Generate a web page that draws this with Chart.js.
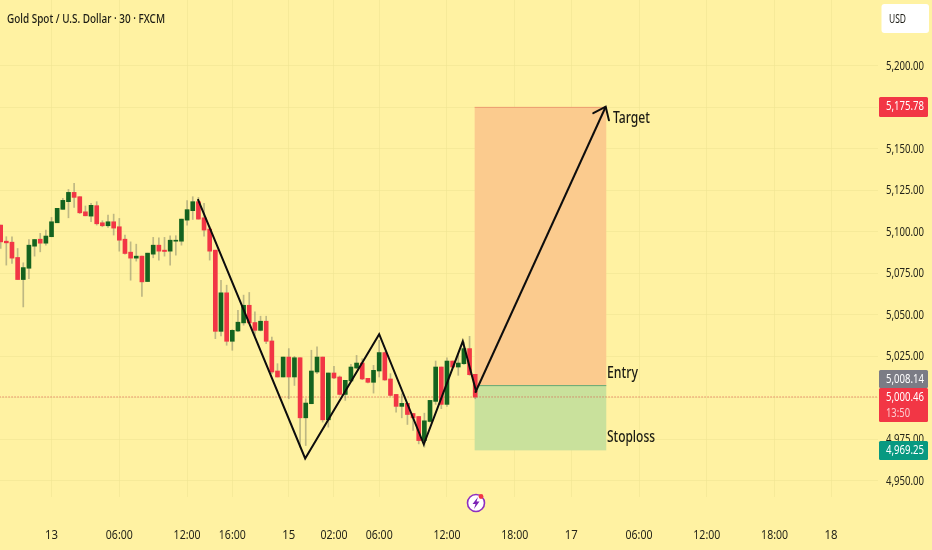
<!DOCTYPE html>
<html><head><meta charset="utf-8">
<script src="https://cdn.jsdelivr.net/npm/chart.js@4"></script>
<style>html,body{margin:0;padding:0;background:#fff2a2;overflow:hidden}canvas{display:block}</style>
</head><body><canvas id="c" width="932" height="550"></canvas>
<script>
const opens=[5104.0,5094.3,5093.7,5084.5,5071.2,5078.0,5091.3,5095.5,5093.1,5097.0,5105.4,5113.5,5118.1,5123.7,5121.1,5112.0,5109.4,5115.7,5105.4,5103.6,5106.0,5103.0,5095.5,5087.7,5084.1,5085.3,5070.0,5086.5,5091.9,5088.9,5088.3,5094.3,5094.3,5107.0,5112.7,5118.1,5108.4,5101.6,5088.9,5040.0,5063.2,5034.0,5040.2,5045.1,5055.7,5045.3,5040.6,5046.1,5034.2,5016.1,5012.5,5024.5,5012.5,5024.1,4987.9,4996.4,5015.5,5024.5,4986.7,5014.9,5012.5,5002.0,5010.1,5017.9,5020.9,5011.7,5009.3,5016.1,5027.2,5011.3,5002.0,4994.8,4996.6,4990.5,4988.7,4974.2,4985.7,4997.8,5018.5,4996.0,5022.1,5018.5,5020.5,5029.6,5014.1];
const highs=[5104.0,5097.0,5097.0,5089.9,5081.3,5095.3,5095.3,5099.0,5101.0,5108.6,5114.1,5120.1,5125.5,5129.2,5121.1,5115.5,5117.1,5118.1,5106.6,5110.0,5110.6,5108.0,5098.0,5093.9,5092.5,5085.3,5087.1,5096.6,5096.4,5096.6,5097.6,5097.6,5107.6,5118.7,5121.1,5120.7,5117.1,5103.0,5088.9,5070.8,5067.8,5041.0,5052.7,5061.8,5063.4,5051.7,5049.1,5049.1,5036.6,5020.5,5024.5,5029.6,5024.9,5024.1,4999.4,5028.6,5030.6,5024.5,5014.9,5018.9,5013.1,5010.5,5020.1,5025.5,5023.5,5011.7,5019.5,5034.6,5027.6,5014.5,5002.0,5002.4,4996.6,4990.5,4988.7,4990.7,4998.4,5022.1,5018.5,5024.1,5022.1,5025.5,5033.6,5037.0,5014.1];
const lows=[5089.9,5079.9,5080.9,5071.2,5054.7,5071.8,5085.3,5087.9,5091.9,5097.0,5105.4,5113.5,5108.4,5114.7,5111.0,5109.6,5106.0,5104.0,5103.0,5102.6,5098.0,5088.3,5086.5,5070.8,5082.3,5061.1,5070.0,5084.3,5082.9,5085.3,5079.9,5085.9,5091.9,5104.0,5107.4,5107.6,5097.4,5082.9,5035.6,5037.2,5031.6,5028.6,5039.8,5043.7,5044.7,5037.6,5040.2,5032.6,5014.5,5012.5,5012.5,4999.4,5007.4,4970.2,4971.2,4996.4,5014.5,4985.3,4982.3,5011.5,5001.6,4998.4,5009.5,5017.5,5010.9,5008.9,5002.8,5012.5,5010.5,5001.0,4991.3,4987.9,4983.9,4980.3,4972.2,4970.2,4985.3,4996.0,4993.4,4994.8,5018.1,5013.5,5020.1,5013.5,4999.4];
const closes=[5093.9,5093.3,5084.1,5071.2,5078.4,5091.9,5095.3,5093.1,5097.4,5106.0,5114.1,5118.9,5123.7,5120.7,5111.4,5109.6,5115.9,5104.8,5103.6,5106.0,5102.2,5094.9,5086.9,5084.1,5085.3,5069.8,5087.1,5091.9,5088.3,5088.1,5094.9,5094.9,5107.6,5113.3,5118.1,5107.6,5101.0,5088.3,5040.0,5063.2,5034.0,5040.6,5045.5,5055.7,5045.1,5040.6,5046.1,5034.0,5015.5,5012.5,5024.5,5012.5,5024.1,4987.9,4996.8,5016.1,5024.5,4986.7,5014.9,5011.9,5002.0,5010.5,5018.5,5020.9,5011.3,5009.3,5016.5,5027.2,5010.7,5001.4,4994.8,4996.6,4989.9,4987.9,4974.2,4986.1,4998.4,5018.5,4996.0,5022.1,5018.5,5020.9,5029.6,5013.9,5000.4];
const priceTicks=[4950,4975,5000,5025,5050,5075,5100,5125,5150,5175,5200];
const hiddenPriceTicks=[5000,5175];
const timeSlots=[9,21,33,41,51,59,67,79,91,101,113,125,137,147];
const timeLabels=['13','06:00','12:00','16:00','15','02:00','06:00','12:00','18:00','17','06:00','12:00','18:00','18'];
const zigzagSlots=[34.9,53.9,67,74.9,81.8,84.2];
const zigzagPrices=[5119.7,4963.4,5038.3,4971.9,5034.0,5003.3];
const arrowSlots=[84.0,107.1];
const arrowPrices=[5003.0,5175.3];
const boxSlots=[83.9,107.2];
const targetPrice=5175.2, entryPrice=5007.6, stopPrice=4968.3, lastPrice=5000.46;
const lastLineSlots=[-0.2,155.3];

const RED='#f23645',GREEN='#14631f',WICK='rgba(125,125,100,.5)',GRID='rgba(238,228,145,.55)';
const FONT='"Noto Sans","Open Sans",sans-serif';
const slots=opens.map((_,i)=>i);
const barColors=opens.map((o,i)=>closes[i]>=o?GREEN:RED);

const overlay={id:'overlay',
 beforeDraw(ch){const c=ch.ctx;c.save();c.fillStyle='#fff2a2';c.fillRect(0,0,932,550);c.restore();},
 beforeDatasetsDraw(ch){
  const c=ch.ctx,x=ch.scales.x,y=ch.scales.y;
  const l=x.getPixelForValue(boxSlots[0]),r=x.getPixelForValue(boxSlots[1]);
  const t=y.getPixelForValue(targetPrice),e=y.getPixelForValue(entryPrice),s=y.getPixelForValue(stopPrice);
  c.save();
  c.fillStyle='#fbcb8e';c.fillRect(l,t,r-l,e-t);
  c.fillStyle='#c9e19c';c.fillRect(l,e,r-l,s-e);
  c.strokeStyle='rgba(220,120,90,.55)';c.lineWidth=1;c.beginPath();c.moveTo(l,t+.5);c.lineTo(r,t+.5);c.stroke();
  c.strokeStyle='rgba(90,160,110,.9)';c.beginPath();c.moveTo(l,e+.5);c.lineTo(r,e+.5);c.stroke();
  c.restore();
 },
 afterDraw(ch){
  const c=ch.ctx,x=ch.scales.x,y=ch.scales.y;
  c.save();
  const ink='#24241a';
  c.textBaseline='middle';c.fillStyle=ink;c.font='13px '+FONT;
  c.textAlign='left';
  y.ticks.forEach(t=>{if(t.label)c.fillText(t.label,886,y.getPixelForValue(t.value)+.5,38);});
  c.textAlign='center';
  x.ticks.forEach(t=>{if(t.label){c.fillText(t.label,x.getPixelForValue(t.value),535,t.label.length>2?27:13);}});
  const hx=x.getPixelForValue(arrowSlots[1]),hy=y.getPixelForValue(arrowPrices[1]);
  const bx=x.getPixelForValue(arrowSlots[0]),by=y.getPixelForValue(arrowPrices[0]);
  const a=Math.atan2(hy-by,hx-bx),L=14;
  c.strokeStyle='#0d0d0d';c.lineWidth=2;c.lineCap='round';c.lineJoin='miter';c.beginPath();
  c.moveTo(hx+L*Math.cos(a+2.48),hy+L*Math.sin(a+2.48));c.lineTo(hx,hy);c.lineTo(hx+L*Math.cos(a-2.48),hy+L*Math.sin(a-2.48));c.stroke();
  c.fillStyle='#1b1b14';c.textAlign='left';
  c.font='500 13px '+FONT;c.fillText('Gold Spot / U.S. Dollar · 30 · FXCM',7,19,158);
  c.font='500 17px '+FONT;
  c.fillText('Target',613,118,37);c.fillText('Entry',607,373,31);c.fillText('Stoploss',607,437,48);
  function tag(t,h,bg,lines){c.fillStyle=bg;c.beginPath();c.roundRect(879,t,49,h,1.5);c.fill();
   c.fillStyle='#fff';c.font='13px '+FONT;c.textAlign='left';
   lines.forEach((s,i)=>{c.globalAlpha=i?0.75:1;c.fillText(s,886,t+9.5+i*16,s.length>5?38:24);});c.globalAlpha=1;}
  tag(97,20,RED,['5,175.78']);
  tag(370,18,'#7b7c85',['5,008.14']);
  tag(388,34,RED,['5,000.46','13:50']);
  tag(441,19,'#089981',['4,969.25']);
  c.fillStyle='#fff';c.beginPath();c.roundRect(881.5,4,47.5,29,3);c.fill();
  c.fillStyle='#1b1b14';c.font='13px '+FONT;c.textAlign='left';c.fillText('USD',889,19,17);
  const ix=476,iy=503;
  c.beginPath();c.arc(ix,iy,8.5,0,Math.PI*2);c.fillStyle='#fff';c.fill();c.lineWidth=1.6;c.strokeStyle='#8e2fc0';c.stroke();
  c.fillStyle='#7b22b5';c.beginPath();c.moveTo(ix+2,iy-6);c.lineTo(ix-3.5,iy+1);c.lineTo(ix-.5,iy+1);c.lineTo(ix-2,iy+6);c.lineTo(ix+3.5,iy-1.5);c.lineTo(ix+.5,iy-1.5);c.closePath();c.fill();
  c.fillStyle='#f23645';c.beginPath();c.arc(ix+5,iy-6.5,2.4,0,Math.PI*2);c.fill();
  c.restore();
 }};

new Chart(document.getElementById('c'),{
 data:{datasets:[
  {type:'line',label:'zigzag',data:zigzagSlots.map((s,i)=>({x:s,y:zigzagPrices[i]})),borderColor:'#0d0d0d',borderWidth:2,pointRadius:0,order:1,tension:0},
  {type:'line',label:'arrow',data:arrowSlots.map((s,i)=>({x:s,y:arrowPrices[i]})),borderColor:'#0d0d0d',borderWidth:2,pointRadius:0,order:1,tension:0},
  {type:'line',label:'last',data:lastLineSlots.map(s=>({x:s,y:lastPrice})),borderColor:'#d8504a',borderWidth:1,borderDash:[1,2],pointRadius:0,order:4},
  {type:'bar',label:'body',data:slots.map(i=>({x:i,y:[opens[i],closes[i]]})),backgroundColor:barColors,barThickness:4,grouped:false,order:2},
  {type:'bar',label:'wick',data:slots.map(i=>({x:i,y:[lows[i],highs[i]]})),backgroundColor:WICK,barThickness:1,grouped:false,order:3}
 ]},
 options:{responsive:false,animation:false,devicePixelRatio:1,
  layout:{padding:0},
  plugins:{legend:{display:false},tooltip:{enabled:false},title:{display:false}},
  scales:{
   x:{type:'linear',offset:false,min:-0.12,max:155.3,
    grid:{color:GRID,lineWidth:1,drawTicks:false,offset:false},border:{display:false},
    afterBuildTicks(s){s.ticks=timeSlots.map(v=>({value:v}));},
    afterFit(s){s.height=53;},
    ticks:{display:false,autoSkip:false,maxRotation:0,
     callback:v=>{const k=timeSlots.indexOf(v);return k<0?'':timeLabels[k];}}},
   y:{type:'linear',position:'right',min:4940.2,max:5239.6,
    grid:{color:GRID,lineWidth:1,drawTicks:false},border:{display:false},
    afterBuildTicks(s){s.ticks=priceTicks.map(v=>({value:v}));},
    afterFit(s){s.width=54;},
    ticks:{display:false,
     callback:v=>hiddenPriceTicks.includes(v)?'':v.toLocaleString('en-US',{minimumFractionDigits:2,maximumFractionDigits:2})}}
  }},
 plugins:[overlay]
});
</script></body></html>
